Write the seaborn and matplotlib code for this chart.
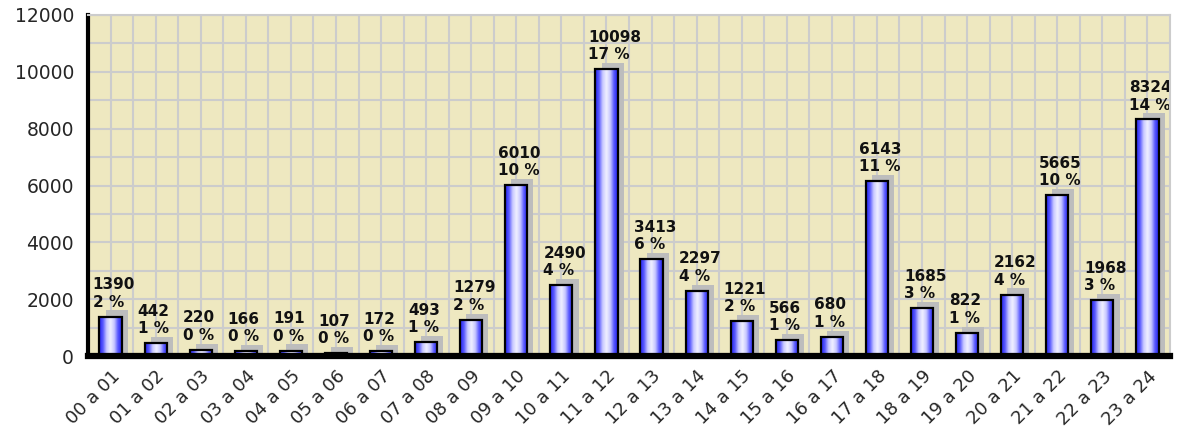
import matplotlib
matplotlib.use("Agg")
import matplotlib.pyplot as plt
import matplotlib.transforms as mtransforms
import matplotlib.patheffects as pe
from matplotlib.colors import LinearSegmentedColormap
import numpy as np
import pandas as pd
import seaborn as sns

categories = ["00 a 01", "01 a 02", "02 a 03", "03 a 04", "04 a 05", "05 a 06",
              "06 a 07", "07 a 08", "08 a 09", "09 a 10", "10 a 11", "11 a 12",
              "12 a 13", "13 a 14", "14 a 15", "15 a 16", "16 a 17", "17 a 18",
              "18 a 19", "19 a 20", "20 a 21", "21 a 22", "22 a 23", "23 a 24"]
values = [1390, 442, 220, 166, 191, 107, 172, 493, 1279, 6010, 2490, 10098,
          3413, 2297, 1221, 566, 680, 6143, 1685, 822, 2162, 5665, 1968, 8324]
percents = [2, 1, 0, 0, 0, 0, 0, 1, 2, 10, 4, 17, 6, 4, 2, 1, 1, 11, 3, 1, 4, 10, 3, 14]
y_ticks = [0, 2000, 4000, 6000, 8000, 10000, 12000]

df = pd.DataFrame({"hora": categories, "visitas": values})

sns.set_theme(style="white")
plt.rcParams["font.family"] = ["DejaVu Sans"]

fig = plt.figure(figsize=(11.9, 4.32), dpi=100)
ax = fig.add_axes([88 / 1190, 1 - 356 / 432, (1170 - 88) / 1190, (356 - 15) / 432])
ax.set_facecolor("#EEE8C0")

bar_w = 0.49
# shadow layer (drawn only as an offset shadow, extended below the baseline)
sns.barplot(data=df, x="hora", y="visitas", ax=ax, color="#BDBDBD", width=bar_w,
            saturation=1, linewidth=0)
shadow_patches = list(ax.patches)
for p in shadow_patches:
    p.set_y(p.get_y() - 500)
    p.set_height(p.get_height() + 500)
    p.set_path_effects([pe.SimplePatchShadow(offset=(4.4, 4.4),
                                             shadow_rgbFace="#BDBDBD", alpha=1.0)])
    p.set_zorder(2)

# main bars
sns.barplot(data=df, x="hora", y="visitas", ax=ax, color="#3333FF", width=bar_w,
            saturation=1, edgecolor="black", linewidth=1.6)
main_patches = [p for p in ax.patches if all(p is not s for s in shadow_patches)]

cmap = LinearSegmentedColormap.from_list(
    "barg", ["#2020EE", "#5a5aff", "#c8c8ff", "#f0f0ff", "#c8c8ff", "#5a5aff", "#2020EE"])
grad = np.linspace(0, 1, 64).reshape(1, -1)
for p in main_patches:
    x0, y0 = p.get_x(), p.get_y()
    w, h = p.get_width(), p.get_height()
    im = ax.imshow(grad, cmap=cmap, extent=[x0, x0 + w, y0, y0 + h],
                   aspect="auto", zorder=3.5, interpolation="bilinear")
    im.set_clip_path(p)
    p.set_facecolor("none")
    p.set_zorder(4)

# labels
for i, (v, pc) in enumerate(zip(values, percents)):
    ax.annotate(f"{v}\n{pc} %", xy=(i - 0.5 + 0.1, v), xytext=(0, 5),
                textcoords="offset points", ha="left", va="bottom",
                fontsize=11, fontweight="bold", color="#111111",
                linespacing=1.2, zorder=6)

ax.set_xlim(-0.5, len(categories) - 0.5)
ax.set_ylim(0, 12000)
ax.set_yticks(y_ticks)
ax.set_yticks(np.arange(1000, 12000, 2000), minor=True)
ax.set_xticks(range(len(categories)))
ax.set_xticks(np.arange(0.5, len(categories) - 0.5, 1), minor=True)
ax.set_xticklabels(categories, rotation=45, ha="right", rotation_mode="anchor",
                   fontsize=13)
lab_off = mtransforms.ScaledTranslation(8 / 100, 0, fig.dpi_scale_trans)
for lab in ax.get_xticklabels():
    lab.set_transform(lab.get_transform() + lab_off)
ax.tick_params(axis="x", which="major", length=0, pad=8)
ax.tick_params(axis="x", which="minor", direction="in", length=9, width=2, color="black")
ax.tick_params(axis="y", which="both", direction="in", length=10, width=2,
               color="black", labelsize=13.5, pad=10)
ax.set_xlabel("")
ax.set_ylabel("")

ax.grid(True, which="both", color="#CCCCCC", linewidth=1.5, zorder=0)
ax.set_axisbelow(True)

for s in ["top", "right"]:
    ax.spines[s].set_color("#CCCCCC")
    ax.spines[s].set_linewidth(1.5)
ax.spines["left"].set_color("black")
ax.spines["left"].set_linewidth(3)
ax.spines["bottom"].set_color("black")
ax.spines["bottom"].set_linewidth(4.5)
for s in ax.spines.values():
    s.set_zorder(7)

fig.savefig("out.png", dpi=100, facecolor="white")
